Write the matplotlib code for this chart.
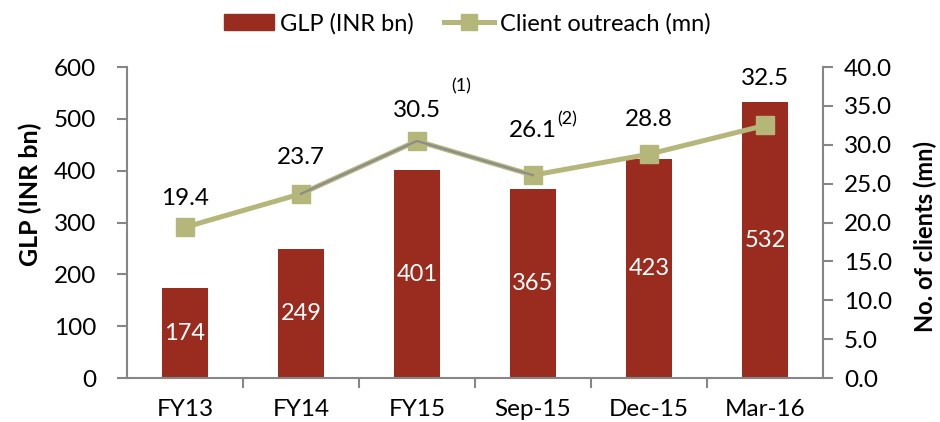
import matplotlib.pyplot as plt
from matplotlib.lines import Line2D
from matplotlib.patches import Patch

# GLP and client outreach by period
periods = ["FY13", "FY14", "FY15", "Sep-15", "Dec-15", "Mar-16"]
glp = [174, 249, 401, 365, 423, 532]
clients = [19.4, 23.7, 30.5, 26.1, 28.8, 32.5]
notes = ["", "", "(1)", "(2)", "", ""]

bar_color = "#9A2B1F"
line_color = "#B5B67A"
axis_grey = "#868686"

plt.rcParams["font.family"] = ["Lato", "DejaVu Sans"]

fig = plt.figure(figsize=(9.4, 4.22), dpi=100)
ax = fig.add_axes([0.135, 0.104, 0.7405, 0.737])
x = list(range(len(periods)))

bars = ax.bar(x, glp, width=0.4, color=bar_color, zorder=2)
ax.bar_label(bars, labels=[str(v) for v in glp], label_type="center",
             color="white", fontsize=17)

ax.set_xlim(-0.5, len(periods) - 0.5)
ax.set_ylim(0, 600)
ax.set_yticks(range(0, 601, 100))
ax.set_xticks(x)
ax.set_xticklabels(periods)
ax.set_xticks([i + 0.5 for i in x[:-1]], minor=True)
ax.tick_params(axis="x", which="major", length=0, pad=15, labelsize=17.5)
ax.tick_params(axis="x", which="minor", length=7, color=axis_grey, width=1.5)
ax.tick_params(axis="y", length=7, color=axis_grey, width=1.5, labelsize=17.5, pad=15)
for side in ["top", "right"]:
    ax.spines[side].set_visible(False)
for side in ["left", "bottom"]:
    ax.spines[side].set_color(axis_grey)
    ax.spines[side].set_linewidth(1.5)

ax2 = ax.twinx()
ax2.plot(x, clients, color=line_color, lw=3.6, marker="s", ms=13, zorder=3)
# thin grey trace over the FY14 - Sep-15 stretch
ax2.plot(x[1:4], clients[1:4], color="#8C8C8C", lw=1.6, zorder=4)
ax2.set_ylim(0, 40)
ax2.set_yticks([i * 5 for i in range(9)])
ax2.set_yticklabels([f"{i * 5:.1f}" for i in range(9)])
ax2.tick_params(axis="y", length=7, color=axis_grey, width=1.5, labelsize=17.5, pad=8)
for side in ["top", "left", "bottom"]:
    ax2.spines[side].set_visible(False)
ax2.spines["right"].set_color(axis_grey)
ax2.spines["right"].set_linewidth(1.5)

fig.text(0.032, 0.54, "GLP (INR bn)", rotation=90, ha="center", va="center",
         fontsize=18, fontweight="bold")
fig.text(0.984, 0.44, "No. of clients (mn)", rotation=90, ha="center", va="center",
         fontsize=17, fontweight="bold")

# value labels above the markers, footnote marks beside two of them
label_offsets = [21, 26, 22, 32, 25, 34]
note_offsets = {2: (32, 39), 3: (25, 40)}
for i, v in enumerate(clients):
    ax2.annotate(f"{v:.1f}", (i, v), xytext=(0, label_offsets[i]),
                 textcoords="offset points", ha="center", va="center", fontsize=17.5)
    if notes[i]:
        ax2.annotate(notes[i], (i, v), xytext=note_offsets[i],
                     textcoords="offset points", ha="center", va="center", fontsize=13)

handles = [Patch(color=bar_color),
           Line2D([], [], color=line_color, lw=3.6, marker="s", ms=11)]
fig.legend(handles, ["GLP (INR bn)", "Client outreach (mn)"], loc="upper center",
           bbox_to_anchor=(0.497, 1.02), ncol=2, frameon=False, fontsize=17,
           handlelength=2.1, handletextpad=0.25, columnspacing=1.3)

fig.savefig("out.png", dpi=100)
